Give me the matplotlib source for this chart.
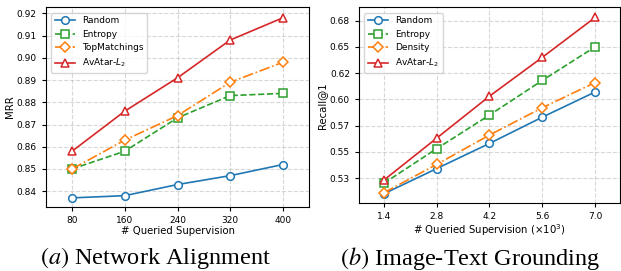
import numpy as np
import matplotlib.pyplot as plt
from matplotlib.ticker import FormatStrFormatter

# Network alignment (left)
na_x = [80, 160, 240, 320, 400]
na_random = [0.837, 0.838, 0.843, 0.847, 0.852]
na_entropy = [0.850, 0.858, 0.873, 0.883, 0.884]
na_topmatch = [0.850, 0.863, 0.874, 0.889, 0.898]
na_avatar = [0.858, 0.876, 0.891, 0.908, 0.918]

# Image-text grounding (right)
it_x = [1.4, 2.8, 4.2, 5.6, 7.0]
it_random = [0.510, 0.534, 0.558, 0.583, 0.607]
it_entropy = [0.520, 0.553, 0.585, 0.618, 0.650]
it_density = [0.511, 0.538, 0.566, 0.592, 0.616]
it_avatar = [0.523, 0.563, 0.603, 0.640, 0.678]

plt.rcParams['xtick.labelsize'] = 6.5
plt.rcParams['ytick.labelsize'] = 6.5
plt.rcParams['axes.labelsize'] = 7.3

fig = plt.figure(figsize=(6.21, 2.71), dpi=100)
ax1 = fig.add_axes([0.0736, 0.237, 0.4245, 0.736])
ax2 = fig.add_axes([0.578, 0.250, 0.4203, 0.723])

styles = [
    dict(color='tab:blue', marker='o', linestyle='-'),
    dict(color='tab:green', marker='s', linestyle='--'),
    dict(color='tab:orange', marker='D', linestyle='-.'),
    dict(color='tab:red', marker='^', linestyle='-'),
]


def draw(ax, x, series, labels):
    for ys, lab, st in zip(series, labels, styles):
        ms = 5 if st['marker'] == 'D' else 5.5
        ax.plot(x, ys, label=lab, linewidth=1.2, markersize=ms,
                markerfacecolor='white', markeredgewidth=1.1, **st)
    ax.set_xticks(x)
    ax.grid(True, linestyle='--', alpha=0.5)
    ax.tick_params(length=3)
    ax.legend(loc='upper left', fontsize=6.5, handlelength=2.2,
              borderaxespad=0.6)


draw(ax1, na_x, [na_random, na_entropy, na_topmatch, na_avatar],
     ['Random', 'Entropy', 'TopMatchings', r'AvAtar-$L_2$'])
ax1.set_xlim(40, 440)
ax1.set_ylim(0.833, 0.9227)
ax1.set_yticks(np.arange(0.84, 0.921, 0.01))
ax1.yaxis.set_major_formatter(FormatStrFormatter('%.2f'))
ax1.set_ylabel('MRR', labelpad=1)
ax1.set_xlabel('# Queried Supervision', labelpad=1)

draw(ax2, it_x, [it_random, it_entropy, it_density, it_avatar],
     ['Random', 'Entropy', 'Density', r'AvAtar-$L_2$'])
ax2.set_xlim(0.74, 7.66)
ax2.set_ylim(0.501, 0.6877)
ax2.set_yticks([0.525, 0.55, 0.575, 0.6, 0.625, 0.65, 0.675])
ax2.yaxis.set_major_formatter(FormatStrFormatter('%.2f'))
ax2.set_ylabel('Recall@1', labelpad=2)
ax2.set_xlabel(r'# Queried Supervision ($\times10^3$)', labelpad=1)

fig.text(0.250, 1 - 258 / 271, r'$\it{(a)}$ Network Alignment',
         family='Liberation Serif', math_fontfamily='stix', fontsize=17.5,
         ha='center', va='center')
fig.text(0.757, 1 - 258 / 271, r'$\it{(b)}$ Image-Text Grounding',
         family='Liberation Serif', math_fontfamily='stix', fontsize=17.5,
         ha='center', va='center')

fig.savefig('out.png', dpi=100)
